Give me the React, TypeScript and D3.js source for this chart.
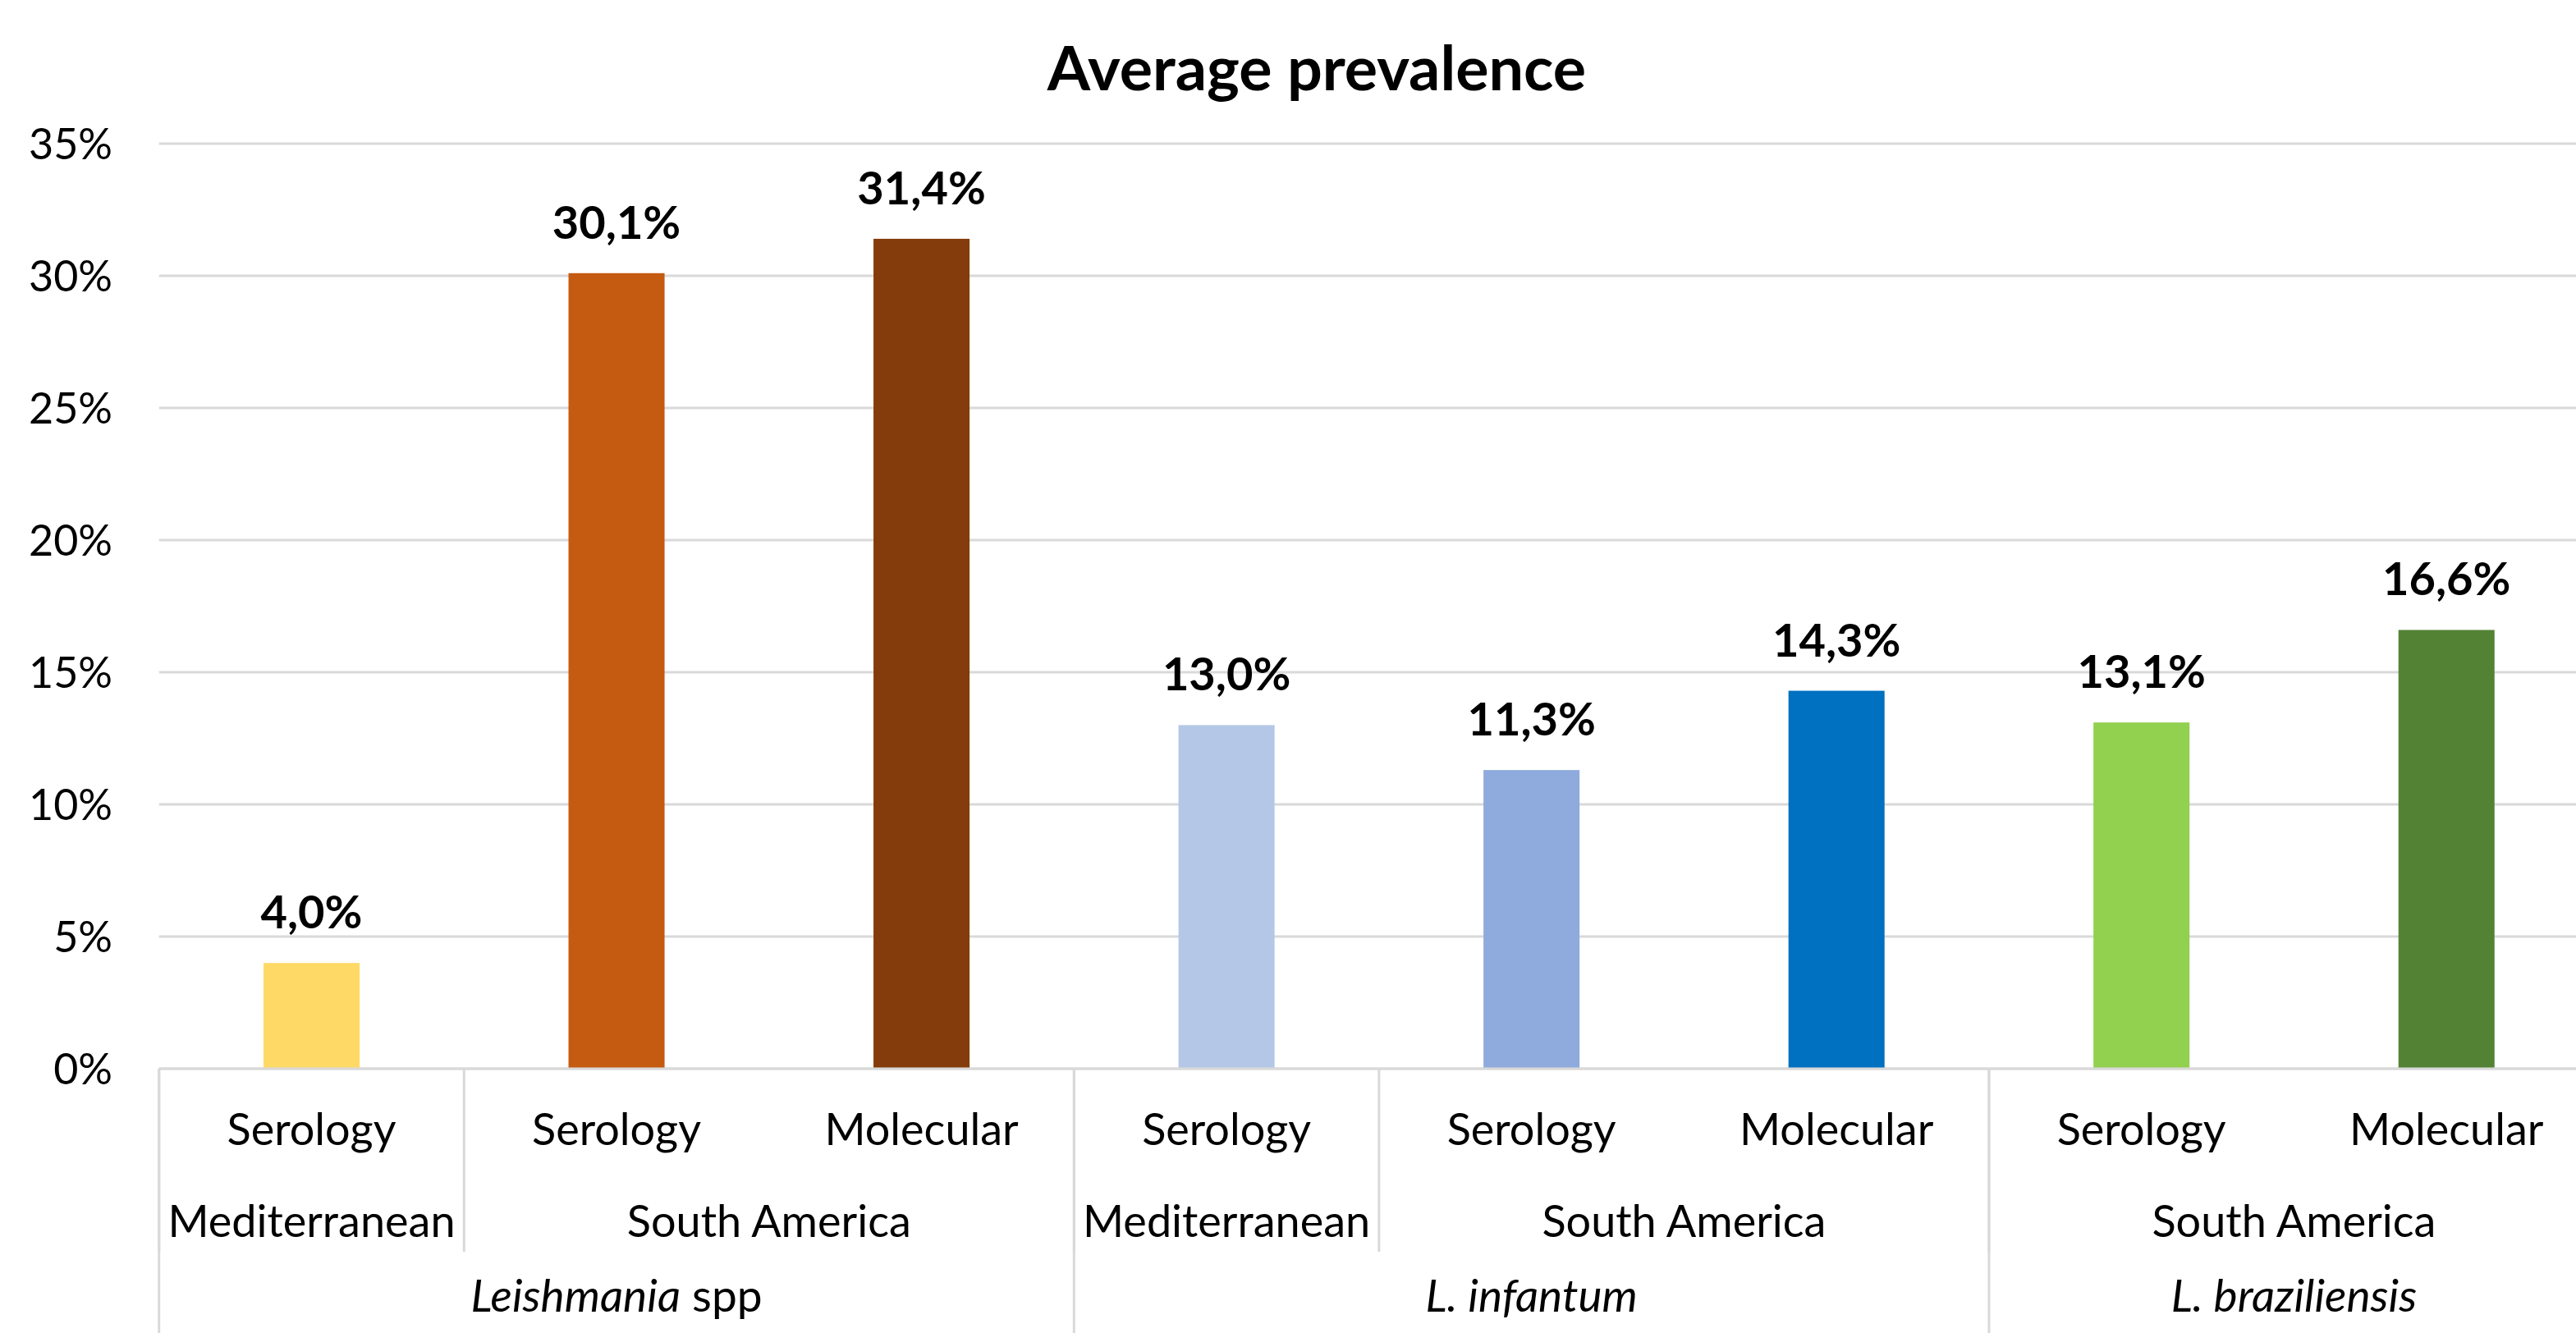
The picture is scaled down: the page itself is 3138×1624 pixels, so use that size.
import React from "react";
import * as d3 from "d3";

const methods = ["Serology", "Serology", "Molecular", "Serology", "Serology", "Molecular", "Serology", "Molecular"];
const values = [4.0, 30.1, 31.4, 13.0, 11.3, 14.3, 13.1, 16.6];
const colors = ["#FFD966", "#C55A11", "#843C0C", "#B4C7E7", "#8FAADC", "#0070C0", "#92D050", "#548235"];
const regions = [
  { label: "Mediterranean", span: 1 },
  { label: "South America", span: 2 },
  { label: "Mediterranean", span: 1 },
  { label: "South America", span: 2 },
  { label: "South America", span: 2 },
];
const species = [
  { italic: "Leishmania", normal: " spp", span: 3 },
  { italic: "L. infantum", normal: "", span: 3 },
  { italic: "L. braziliensis", normal: "", span: 2 },
];
const yTicks = [0, 5, 10, 15, 20, 25, 30, 35];
const title = "Average prevalence";

const W = 3138;
const H = 1624;
const FONT = "Lato, 'Open Sans', sans-serif";

export default function App() {
  const left = 193.75;
  const right = 3166;
  const y = d3.scaleLinear().domain([0, 35]).range([1302, 175]);
  const idx = values.map((_, i) => i);
  const x = d3.scaleBand<number>().domain(idx).range([left, right]).paddingInner(0.685).paddingOuter(0.3425);
  const step = x.step();
  const fmt = (v: number) => v.toFixed(1).replace(".", ",") + "%";
  const grid = "#D9D9D9";

  const regionBounds: { start: number; end: number; label: string }[] = [];
  let c = 0;
  regions.forEach((r) => {
    regionBounds.push({ start: c, end: c + r.span, label: r.label });
    c += r.span;
  });
  const speciesBounds: { start: number; end: number; italic: string; normal: string }[] = [];
  c = 0;
  species.forEach((s) => {
    speciesBounds.push({ start: c, end: c + s.span, italic: s.italic, normal: s.normal });
    c += s.span;
  });
  const edge = (k: number) => left + k * step;

  return (
    <svg width={W} height={H} style={{ position: "absolute", left: 0, top: 0, background: "#fff" }} fontFamily={FONT}>
      <rect x={0} y={0} width={W} height={H} fill="#fff" />
      <text x={1604} y={110} textAnchor="middle" fontSize={75.5} fontWeight="bold" fill="#000">{title}</text>
      {yTicks.map((t) => (
        <g key={t}>
          <line x1={left} x2={W} y1={y(t)} y2={y(t)} stroke={grid} strokeWidth={3} />
          <text x={137} y={y(t)} dy="0.36em" textAnchor="end" fontSize={52} fill="#000">{t}%</text>
        </g>
      ))}
      {values.map((v, i) => (
        <g key={i}>
          <rect x={x(i)} y={y(v)} width={x.bandwidth()} height={y(0) - y(v)} fill={colors[i]} />
          <text x={(x(i) as number) + x.bandwidth() / 2} y={y(v) - 42} textAnchor="middle" fontSize={56} fontWeight="bold" fill="#000">{fmt(v)}</text>
          <text x={(x(i) as number) + x.bandwidth() / 2} y={1395} textAnchor="middle" fontSize={54} fill="#000">{methods[i]}</text>
        </g>
      ))}
      <line x1={left} x2={W} y1={y(0)} y2={y(0)} stroke={grid} strokeWidth={3} />
      {regionBounds.map((r, i) => (
        <g key={"r" + i}>
          <line x1={edge(r.start)} x2={edge(r.start)} y1={y(0)} y2={1525} stroke={grid} strokeWidth={3} />
          <text x={(edge(r.start) + edge(r.end)) / 2} y={1507} textAnchor="middle" fontSize={54} fill="#000">{r.label}</text>
        </g>
      ))}
      {speciesBounds.map((s, i) => (
        <g key={"s" + i}>
          <line x1={edge(s.start)} x2={edge(s.start)} y1={y(0)} y2={H} stroke={grid} strokeWidth={3} />
          <text x={(edge(s.start) + edge(s.end)) / 2} y={1598} textAnchor="middle" fontSize={55} fill="#000">
            <tspan fontStyle="italic">{s.italic}</tspan>
            {s.normal ? <tspan>{s.normal}</tspan> : null}
          </text>
        </g>
      ))}
    </svg>
  );
}
